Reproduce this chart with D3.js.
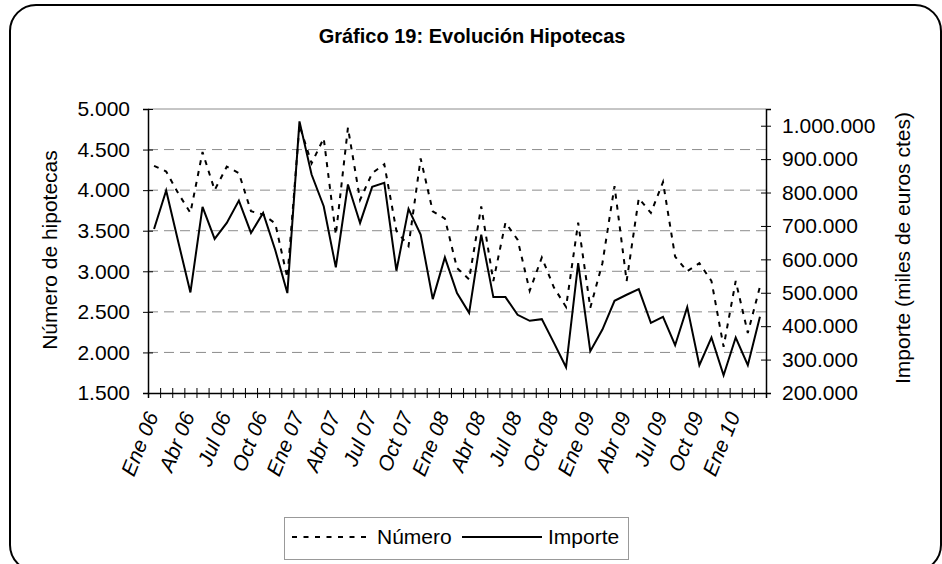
<!DOCTYPE html>
<html>
<head>
<meta charset="utf-8">
<script src="https://cdn.jsdelivr.net/npm/d3@7"></script>
<style>
  body { margin: 0; background: #fff; }
  svg { font-family: Arial, "Liberation Sans", sans-serif; }
</style>
</head>
<body>
<div id="chart"></div>
<script>
// data
var categories = [
    "Ene 06","Feb 06","Mar 06","Abr 06","May 06","Jun 06","Jul 06","Ago 06","Sep 06","Oct 06","Nov 06","Dic 06",
    "Ene 07","Feb 07","Mar 07","Abr 07","May 07","Jun 07","Jul 07","Ago 07","Sep 07","Oct 07","Nov 07","Dic 07",
    "Ene 08","Feb 08","Mar 08","Abr 08","May 08","Jun 08","Jul 08","Ago 08","Sep 08","Oct 08","Nov 08","Dic 08",
    "Ene 09","Feb 09","Mar 09","Abr 09","May 09","Jun 09","Jul 09","Ago 09","Sep 09","Oct 09","Nov 09","Dic 09",
    "Ene 10","Feb 10","Mar 10"
];

// Número de hipotecas (left axis)
var numero = [
    4300, 4230, 3960, 3720, 4470, 4000, 4290, 4210, 3740, 3700, 3590, 2920,
    4800, 4330, 4640, 3450, 4770, 3880, 4210, 4320, 3500, 3310, 4390, 3740,
    3650, 3040, 2900, 3800, 2880, 3600, 3390, 2760, 3170, 2800, 2560, 3600,
    2550, 3100, 4050, 2880, 3900, 3720, 4100, 3180, 3000, 3100, 2880, 2070,
    2880, 2240, 2810
];

// Importe, miles de euros ctes (right axis)
var importe = [
    691000, 806000, 652000, 501000, 757000, 661000, 709000, 776000, 679000, 739000, 628000, 499000,
    1013000, 854000, 759000, 576000, 824000, 709000, 817000, 829000, 566000, 751000, 674000, 481000,
    606000, 499000, 440000, 674000, 487000, 487000, 434000, 416000, 421000, 350000, 277000, 589000,
    325000, 390000, 476000, 494000, 511000, 410000, 428000, 343000, 457000, 283000, 366000, 253000,
    366000, 283000, 428000
];

var leftTicks = [1500, 2000, 2500, 3000, 3500, 4000, 4500, 5000];
var rightTicks = [200000, 300000, 400000, 500000, 600000, 700000, 800000, 900000, 1000000];
var xLabels = categories.filter((d, i) => i % 3 === 0);

// set up chart
var svgWidth = 942;
var svgHeight = 564;

var plot = { left: 148, right: 766, top: 109, bottom: 393 };

var svg = d3.select("#chart")
    .append("svg")
    .attr("width", svgWidth)
    .attr("height", svgHeight);

// outer rounded frame
svg.append("rect")
    .attr("x", 10)
    .attr("y", 5)
    .attr("width", 931)
    .attr("height", 566)
    .attr("rx", 26)
    .attr("fill", "#fff")
    .attr("stroke", "#000")
    .attr("stroke-width", 2);

var esLocale = d3.formatLocale({ decimal: ",", thousands: ".", grouping: [3], currency: ["", "€"] });
var fmt = esLocale.format(",d");

// scales
var xScale = d3.scaleBand()
    .domain(categories)
    .range([plot.left, plot.right])
    .padding(0);

var xEdges = d3.scaleLinear()
    .domain([0, categories.length])
    .range([plot.left, plot.right]);

var yLeft = d3.scaleLinear()
    .domain([1500, 5000])
    .range([plot.bottom, plot.top]);

var yRight = d3.scaleLinear()
    .domain([200000, 1050000])
    .range([plot.bottom, plot.top]);

var bw = xScale.bandwidth();

// gridlines
svg.append("g")
    .selectAll("line")
    .data(leftTicks.slice(1))
    .enter()
    .append("line")
    .attr("x1", plot.left)
    .attr("x2", plot.right)
    .attr("y1", d => yLeft(d))
    .attr("y2", d => yLeft(d))
    .attr("stroke", "#8c8c8c")
    .attr("stroke-width", 1)
    .attr("stroke-dasharray", d => d === 5000 ? null : "10,6");

// series lines
var lineNumero = d3.line()
    .x((d, i) => xScale(categories[i]) + bw / 2)
    .y(d => yLeft(d));

var lineImporte = d3.line()
    .x((d, i) => xScale(categories[i]) + bw / 2)
    .y(d => yRight(d));

svg.append("path")
    .datum(numero)
    .attr("d", lineNumero)
    .attr("fill", "none")
    .attr("stroke", "#000")
    .attr("stroke-width", 2)
    .attr("stroke-dasharray", "5,6");

svg.append("path")
    .datum(importe)
    .attr("d", lineImporte)
    .attr("fill", "none")
    .attr("stroke", "#000")
    .attr("stroke-width", 2);

// left axis
var leftAxis = svg.append("g")
    .attr("transform", `translate(${plot.left},0)`)
    .call(d3.axisLeft(yLeft).tickValues(leftTicks).tickFormat(fmt).tickSize(5).tickPadding(13));
leftAxis.select(".domain").attr("stroke", "#000").attr("stroke-width", 1.5);
leftAxis.selectAll(".tick line").attr("x1", 5);
leftAxis.selectAll("text").attr("font-size", 21).attr("font-family", null).attr("fill", "#000");

// right axis
var rightAxis = svg.append("g")
    .attr("transform", `translate(${plot.right},0)`)
    .call(d3.axisRight(yRight).tickValues(rightTicks).tickFormat(fmt).tickSize(5).tickPadding(11));
rightAxis.select(".domain").attr("stroke", "#000").attr("stroke-width", 1.5);
rightAxis.selectAll(".tick line").attr("x1", -5);
rightAxis.selectAll("text").attr("font-size", 21).attr("font-family", null).attr("fill", "#000");

// bottom axis: tick marks at category edges
var edgeAxis = svg.append("g")
    .attr("transform", `translate(0,${plot.bottom})`)
    .call(d3.axisBottom(xEdges).tickValues(d3.range(0, categories.length + 1)).tickFormat("").tickSize(5));
edgeAxis.select(".domain").attr("stroke", "#000").attr("stroke-width", 1.5);
edgeAxis.selectAll(".tick line").attr("y1", -5);

// bottom axis labels, every third month
var labelAxis = svg.append("g")
    .attr("transform", `translate(0,${plot.bottom})`)
    .call(d3.axisBottom(xScale).tickValues(xLabels).tickSize(0));
labelAxis.select(".domain").remove();
labelAxis.selectAll("text")
    .attr("font-size", 21)
    .attr("font-family", null)
    .attr("font-style", "italic")
    .attr("fill", "#000")
    .attr("x", 0)
    .attr("y", 0)
    .attr("dy", "0.35em")
    .attr("transform", "translate(-2,20) rotate(-68)")
    .style("text-anchor", "end");

// title
svg.append("text")
    .attr("x", 472)
    .attr("y", 43)
    .attr("text-anchor", "middle")
    .attr("font-size", 20)
    .attr("font-weight", "bold")
    .text("Gráfico 19: Evolución Hipotecas");

// axis titles
svg.append("text")
    .attr("transform", "translate(57,250) rotate(-90)")
    .attr("text-anchor", "middle")
    .attr("font-size", 21)
    .text("Número de hipotecas");

svg.append("text")
    .attr("transform", "translate(910,248) rotate(-90)")
    .attr("text-anchor", "middle")
    .attr("font-size", 21)
    .text("Importe (miles de euros ctes)");

// legend
var legend = svg.append("g");
legend.append("rect")
    .attr("x", 284.5)
    .attr("y", 517.5)
    .attr("width", 344)
    .attr("height", 42)
    .attr("fill", "#fff")
    .attr("stroke", "#999")
    .attr("stroke-width", 1);

legend.append("line")
    .attr("x1", 292).attr("x2", 370)
    .attr("y1", 537).attr("y2", 537)
    .attr("stroke", "#000")
    .attr("stroke-width", 2)
    .attr("stroke-dasharray", "5,6.5");

legend.append("text")
    .attr("x", 377)
    .attr("y", 544)
    .attr("font-size", 21)
    .text("Número");

legend.append("line")
    .attr("x1", 462).attr("x2", 542)
    .attr("y1", 537).attr("y2", 537)
    .attr("stroke", "#000")
    .attr("stroke-width", 2);

legend.append("text")
    .attr("x", 548)
    .attr("y", 544)
    .attr("font-size", 21)
    .text("Importe");
</script>
</body>
</html>
